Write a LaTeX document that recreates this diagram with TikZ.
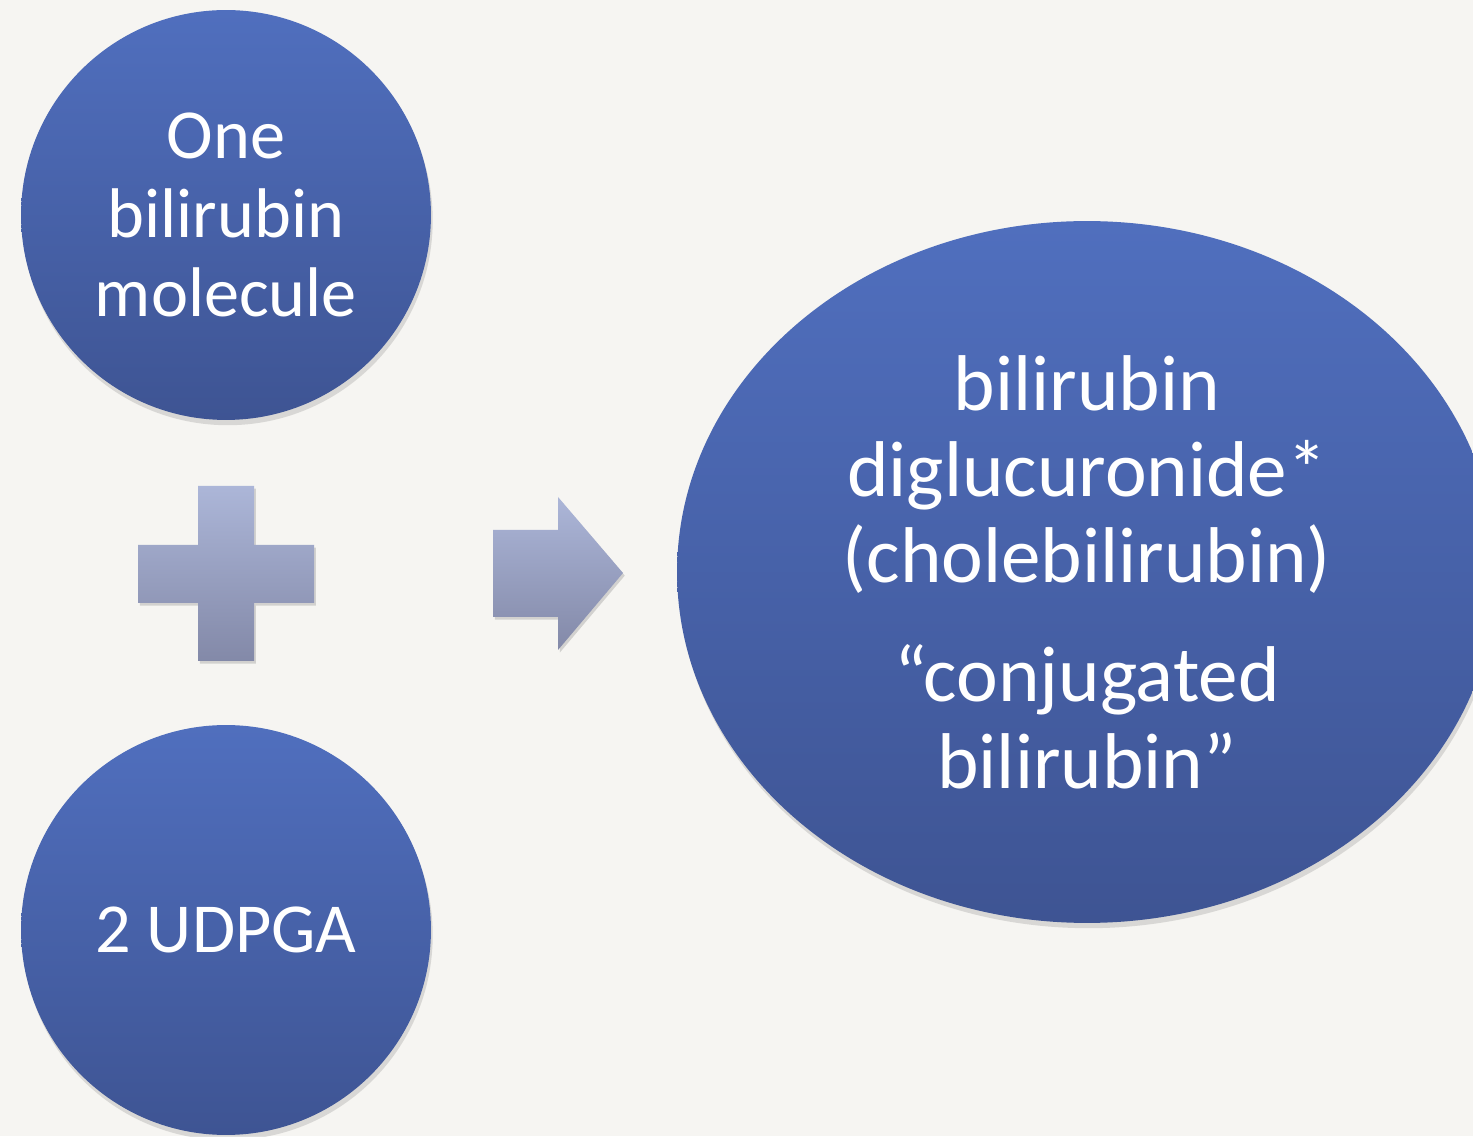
\documentclass[tikz,border=0pt]{standalone}
\usepackage{fontspec}
\setmainfont{Carlito}
\usepackage{tikz}
\usetikzlibrary{positioning, shapes.geometric, shadows}

\definecolor{blobtop}{RGB}{80,111,190}
\definecolor{blobbot}{RGB}{62,84,147}
\definecolor{signtop}{RGB}{172,182,216}
\definecolor{signbot}{RGB}{131,137,168}
\definecolor{paper}{RGB}{246,245,242}

\begin{document}
\begin{tikzpicture}[x=0.02cm, y=0.02cm,
  blob/.style={circle, minimum size=8.2cm, inner sep=0pt,
    top color=blobtop, bottom color=blobbot, text=white, align=center,
    font=\fontsize{40}{45}\selectfont,
    drop shadow={opacity=0.25, shadow xshift=1pt, shadow yshift=-3pt}},
  sign/.style={top color=signtop, bottom color=signbot,
    drop shadow={opacity=0.3, shadow xshift=1pt, shadow yshift=-1.5pt}}]
\useasboundingbox (0,0) rectangle (1473,1136);
\fill[paper] (0,0) rectangle (1473,1136);
\clip (0,0) rectangle (1473,1136);

% the two inputs
\node[blob] (bili) at (226,921) {One\\bilirubin\\molecule};
\node[blob] (udpga) at (226,206) {2 UDPGA};

% the product
\node[blob, ellipse, minimum width=16.4cm, minimum height=14.04cm,
  font=\fontsize{45}{49}\selectfont] (conj) at (1087,564)
  {bilirubin\\diglucuronide*\\(cholebilirubin)\\[19pt]“conjugated\\bilirubin”};

% plus and arrow
\path[sign] (198,475) -- (198,533) -- (138,533) -- (138,591) -- (198,591)
  -- (198,650) -- (254,650) -- (254,591) -- (314,591) -- (314,533)
  -- (254,533) -- (254,475) -- cycle;
\path[sign] (493,519) -- (493,606) -- (558,606) -- (558,639) -- (623,563)
  -- (558,486) -- (558,519) -- cycle;
\end{tikzpicture}
\end{document}
